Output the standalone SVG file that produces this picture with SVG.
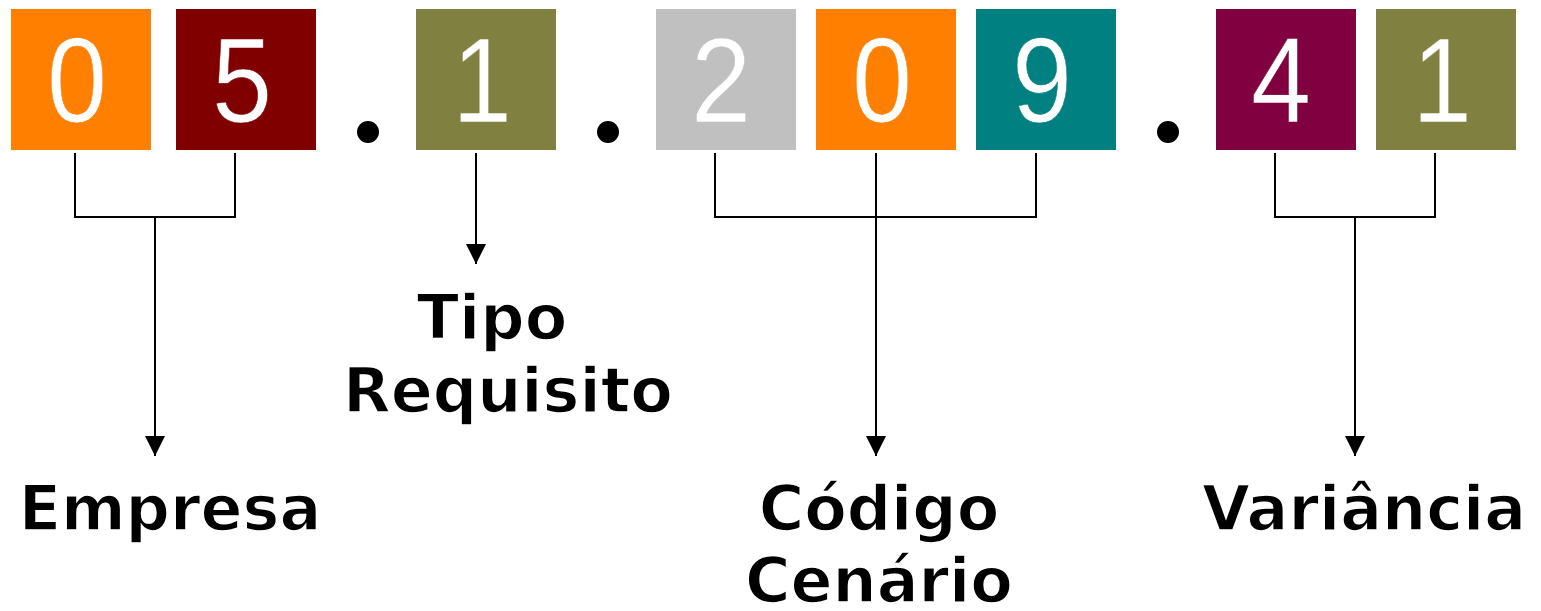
<svg xmlns="http://www.w3.org/2000/svg" width="1541" height="611" viewBox="0 0 1541 611">
<defs>
<style>
.box{stroke:none}
.digit{font-family:"Liberation Sans",Arial,sans-serif;font-size:120px;fill:#ffffff;text-anchor:middle;stroke-width:0.6px}
.label{font-family:"DejaVu Sans",Verdana,sans-serif;font-weight:bold;font-size:62px;fill:#000000;text-anchor:middle;stroke:#ffffff;stroke-width:1.6px}
.conn{fill:none;stroke:#000000;stroke-width:2}
.dot{fill:#000000}
</style>
<marker id="arrow" markerUnits="userSpaceOnUse" markerWidth="20" markerHeight="20" viewBox="0 0 20 20" refX="20" refY="10" orient="auto">
<path d="M0,0 L20,10 L0,20 z" fill="#000000"/>
</marker>
</defs>
<rect width="1541" height="611" fill="#ffffff"/>
<g id="d1"><rect class="box" x="11" y="9" width="140" height="141" fill="#FF8000"/><text class="digit" transform="translate(77 122) scale(0.9 1)" stroke="#FF8000">0</text></g>
<g id="d2"><rect class="box" x="176" y="9" width="140" height="141" fill="#800000"/><text class="digit" transform="translate(242 122) scale(0.9 1)" stroke="#800000">5</text></g>
<g id="sep1"><circle class="dot" cx="368" cy="132" r="11"/></g>
<g id="d3"><rect class="box" x="416" y="9" width="140" height="141" fill="#808040"/><text class="digit" transform="translate(482 122) scale(0.9 1)" stroke="#808040">1</text></g>
<g id="sep2"><circle class="dot" cx="608" cy="132" r="11"/></g>
<g id="d4"><rect class="box" x="656" y="9" width="140" height="141" fill="#C0C0C0"/><text class="digit" transform="translate(721 122) scale(0.9 1)" stroke="#C0C0C0">2</text></g>
<g id="d5"><rect class="box" x="816" y="9" width="140" height="141" fill="#FF8000"/><text class="digit" transform="translate(882 122) scale(0.9 1)" stroke="#FF8000">0</text></g>
<g id="d6"><rect class="box" x="976" y="9" width="140" height="141" fill="#008080"/><text class="digit" transform="translate(1042 122) scale(0.9 1)" stroke="#008080">9</text></g>
<g id="sep3"><circle class="dot" cx="1168" cy="132" r="11"/></g>
<g id="d7"><rect class="box" x="1216" y="9" width="140" height="141" fill="#800040"/><text class="digit" transform="translate(1281 122) scale(0.9 1)" stroke="#800040">4</text></g>
<g id="d8"><rect class="box" x="1376" y="9" width="140" height="141" fill="#808040"/><text class="digit" transform="translate(1442 122) scale(0.9 1)" stroke="#808040">1</text></g>
<g id="connectors">
<path class="conn" d="M75,153 V217 H235 V153"/>
<path class="conn" d="M155,217 V456" marker-end="url(#arrow)"/>
<path class="conn" d="M476,153 V264" marker-end="url(#arrow)"/>
<path class="conn" d="M715,153 V217 H1036 V153"/>
<path class="conn" d="M876,153 V456" marker-end="url(#arrow)"/>
<path class="conn" d="M1275,153 V217 H1435 V153"/>
<path class="conn" d="M1355,217 V456" marker-end="url(#arrow)"/>
</g>
<g id="empresa"><text class="label" x="170" y="530">Empresa</text></g>
<g id="tipo"><text class="label" x="492" y="339">Tipo</text><text class="label" x="508" y="412">Requisito</text></g>
<g id="codigo"><text class="label" x="879" y="530">Código</text><text class="label" x="879" y="602">Cenário</text></g>
<g id="variancia"><text class="label" x="1364" y="530">Variância</text></g>
</svg>
